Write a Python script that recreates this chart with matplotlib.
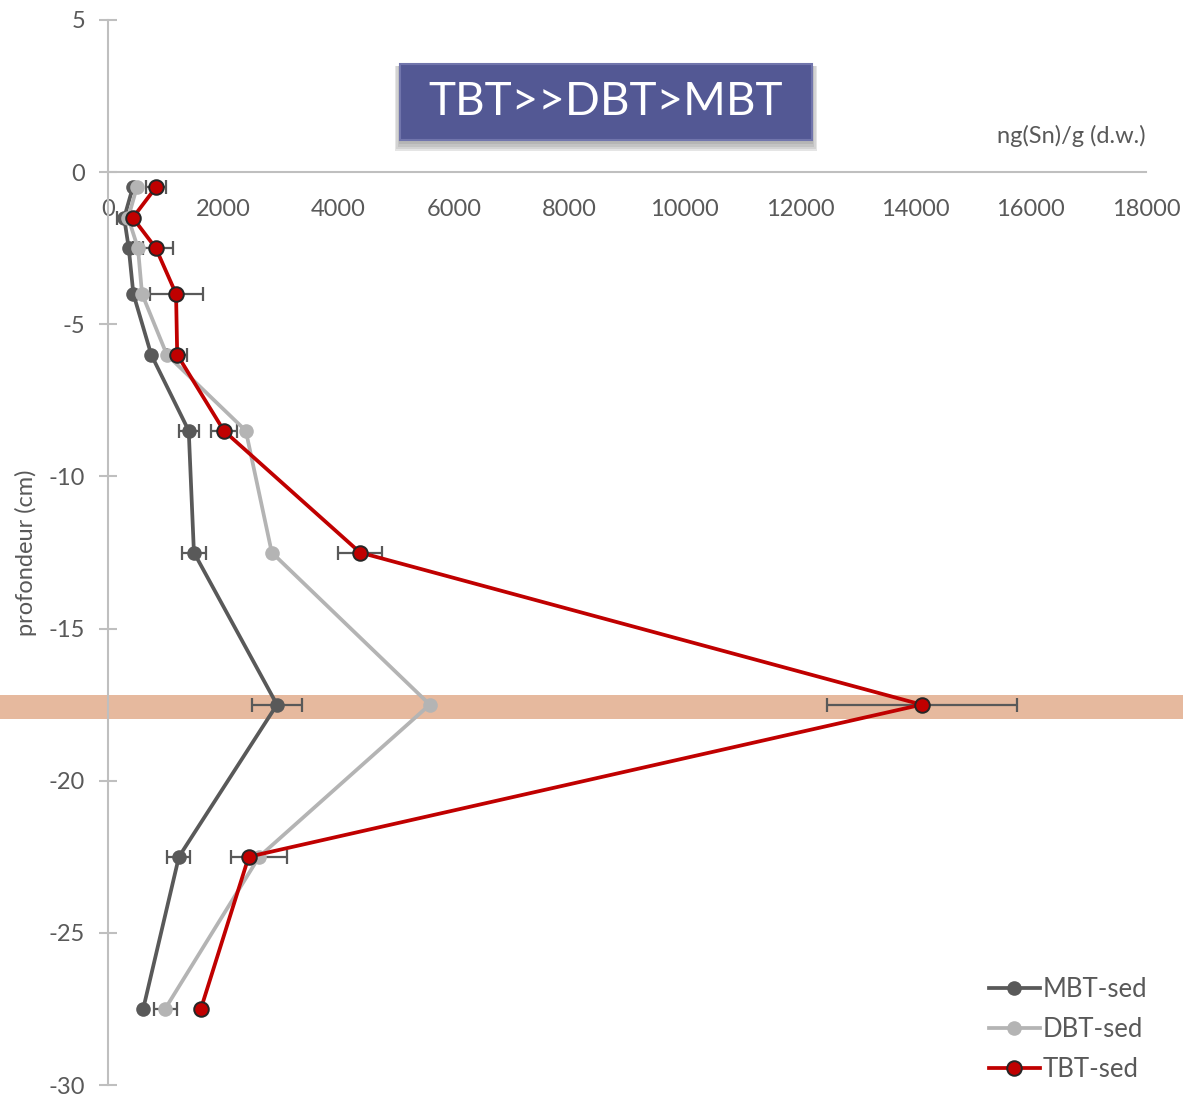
import numpy as np
import matplotlib
matplotlib.use("Agg")
import matplotlib.pyplot as plt
from matplotlib.patches import Rectangle

plt.rcParams['font.family'] = ['Lato', 'DejaVu Sans']
plt.rcParams['axes.unicode_minus'] = False

# depth of each sediment layer (cm) and concentrations ng(Sn)/g
depth = [-0.5, -1.5, -2.5, -4, -6, -8.5, -12.5, -17.5, -22.5, -27.5]
mbt = [430, 280, 360, 440, 750, 1400, 1490, 2930, 1230, 610]
dbt = [500, 350, 520, 590, 1020, 2390, 2840, 5580, 2620, 990]
tbt = [830, 430, 830, 1180, 1200, 2010, 4370, 14110, 2440, 1610]

# horizontal error bars (0 = none shown)
mbt_err = [0, 120, 0, 0, 0, 170, 210, 430, 200, 0]
dbt_err = [0, 0, 90, 0, 0, 0, 0, 0, 490, 200]
tbt_err = [170, 0, 290, 460, 170, 230, 390, 1650, 0, 0]

x_ticks = [0, 2000, 4000, 6000, 8000, 10000, 12000, 14000, 16000, 18000]
y_ticks = [5, 0, -5, -10, -15, -20, -25, -30]

band = (-17.17, -17.96)   # highlighted layer

txt = '#595959'
axc = '#bfbfbf'

fig = plt.figure(figsize=(11.83, 10.95), dpi=100)
ax = fig.add_axes([108/1183, 1-1085/1095, 1038/1183, 1065/1095])

ax.axhspan(band[1], band[0], xmin=-108/1038, xmax=1075/1038,
           color='#e6b99e', lw=0, clip_on=False, zorder=0)

series = [
    ('MBT-sed', mbt, mbt_err, '#595959', '#595959'),
    ('DBT-sed', dbt, dbt_err, '#b4b4b4', '#b4b4b4'),
    ('TBT-sed', tbt, tbt_err, '#c00000', '#262626'),
]

for name, vals, err, col, edge in series:
    v = np.array(vals, float)
    e = np.array(err, float)
    d = np.array(depth, float)
    m = e > 0
    ax.errorbar(v[m], d[m], xerr=e[m], fmt='none', ecolor='#595959',
                elinewidth=1.6, capsize=5, capthick=1.6, zorder=2)

for name, vals, err, col, edge in series:
    ax.plot(vals, depth, color=col, lw=2.7, marker='o', ms=10.5,
            mfc=col, mec=edge, mew=1.4 if edge != col else 0, label=name, zorder=3)

ax.set_xlim(0, 18000)
ax.set_ylim(-30, 5)
ax.set_xticks(x_ticks)
ax.set_yticks(y_ticks)
ax.set_yticklabels([str(t) for t in y_ticks])

for s in ['right', 'top']:
    ax.spines[s].set_visible(False)
ax.spines['bottom'].set_position(('data', 0))
ax.spines['bottom'].set_color(axc)
ax.spines['left'].set_color(axc)
ax.spines['bottom'].set_linewidth(1.5)
ax.spines['left'].set_linewidth(1.5)

ax.tick_params(axis='x', length=0, pad=19, labelsize=17, labelcolor=txt)
ax.tick_params(axis='y', direction='inout', length=13, width=1.5, color=axc,
               pad=10, labelsize=17, labelcolor=txt)

ax.set_ylabel('profondeur (cm)', fontsize=17, color=txt, labelpad=8)

ax.text(18000, 1.2, 'ng(Sn)/g (d.w.)', ha='right', va='center',
        fontsize=17, color=txt)

leg = ax.legend(loc='lower right', bbox_to_anchor=(1.016, -0.012), frameon=False,
                fontsize=18.5, handlelength=2.0, handletextpad=0.1,
                labelspacing=0.6, borderaxespad=0.2)
for t in leg.get_texts():
    t.set_color(txt)

# title box with a soft shadow
bx, by, bw, bh = 400/1183, 1-140/1095, 412/1183, 76/1095
for i, a in enumerate([0.07, 0.07, 0.08, 0.10]):
    o = 0.002 * (i + 1)
    fig.patches.append(Rectangle((bx - o/2, by - o - 0.002), bw + o, bh + o,
                                 transform=fig.transFigure, fc='black', alpha=a,
                                 lw=0, zorder=5))
fig.patches.append(Rectangle((bx, by), bw, bh, transform=fig.transFigure,
                             fc='#535894', ec='#7175ac', lw=1.5, zorder=6))
fig.text(bx + bw/2, by + bh/2, 'TBT>>DBT>MBT', ha='center', va='center',
         fontsize=33, color='white', zorder=7)

fig.savefig('out.png', dpi=100)
